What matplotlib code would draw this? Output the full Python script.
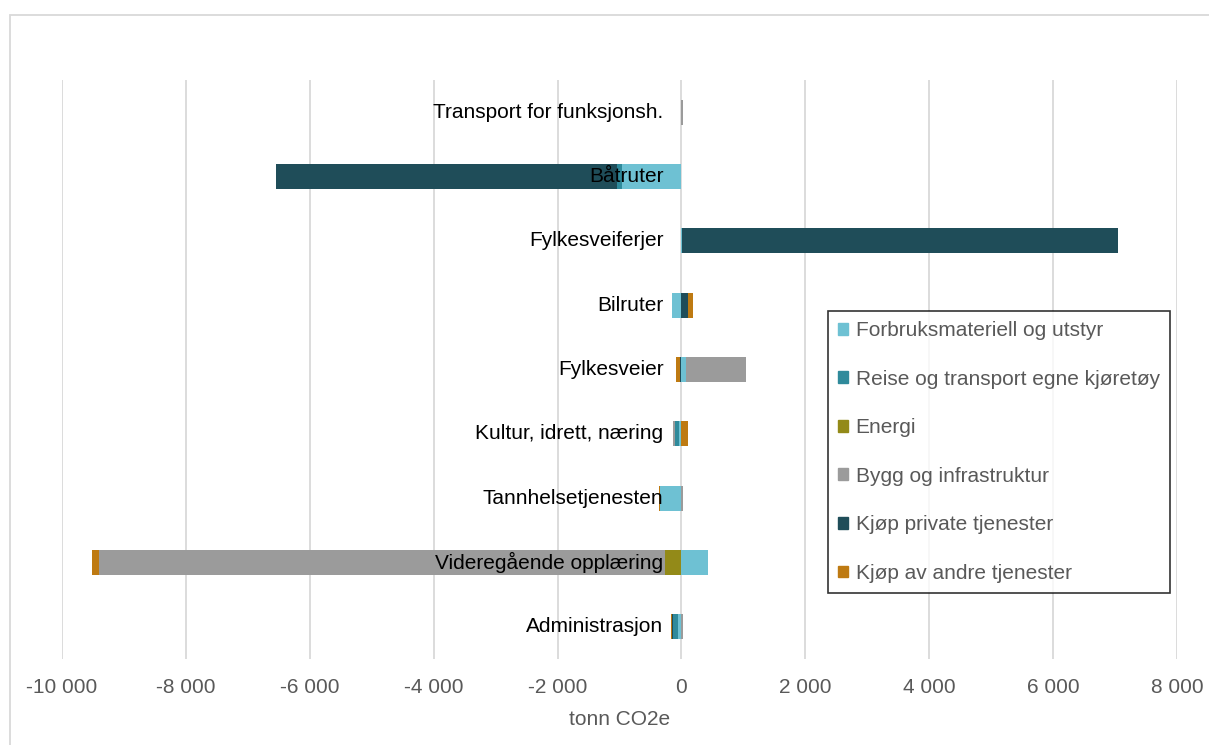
import matplotlib as mpl
mpl.use('Agg')
import matplotlib.pyplot as plt
import matplotlib.patches as mpatches
from matplotlib.ticker import FuncFormatter
import numpy as np

plt.rcParams['font.family'] = ['Liberation Sans', 'DejaVu Sans']

# categories bottom -> top
categories = ["Administrasjon", "Videregående opplæring", "Tannhelsetjenesten",
              "Kultur, idrett, næring", "Fylkesveier", "Bilruter",
              "Fylkesveiferjer", "Båtruter", "Transport for funksjonsh."]

series_names = ["Forbruksmateriell og utstyr", "Reise og transport egne kjøretøy",
                "Energi", "Bygg og infrastruktur", "Kjøp private tjenester",
                "Kjøp av andre tjenester"]
series_colors = ["#6EC1D3", "#2F8A9B", "#938A18", "#9B9B9B", "#1F4D59", "#BE7A12"]

forbruk = [-50, 430, -350, -40, 70, -150, 15, -960, 0]
reise = [-90, 0, 0, -70, 0, 0, 0, -80, 0]
energi = [0, -260, 0, 0, 0, 0, 0, 0, 0]
bygg = [30, -9150, 30, -30, 980, 0, 0, 0, 20]
kjop_private = [-20, 0, 0, 0, -25, 100, 7030, -5500, 0]
kjop_andre = [-15, -110, -15, 110, -65, 85, 0, 0, 0]

series = [forbruk, reise, energi, bygg, kjop_private, kjop_andre]

fs = 15

fig = plt.figure(figsize=(12.09, 7.45), dpi=100)
ax = fig.add_axes([62/1209, 1 - 659/745, (1177-62)/1209, (659-80)/745])

y = np.arange(len(categories))
pos = np.zeros(len(categories))
neg = np.zeros(len(categories))
handles = []
for name, vals, col in zip(series_names, series, series_colors):
    vals = np.array(vals, dtype=float)
    left = np.where(vals >= 0, pos, neg)
    ax.barh(y, vals, left=left, height=0.39, color=col, zorder=2)
    pos = pos + np.where(vals >= 0, vals, 0)
    neg = neg + np.where(vals < 0, vals, 0)
    handles.append(mpatches.Patch(color=col, label=name))

# category labels sit at the zero line
for i, c in enumerate(categories):
    ax.annotate(c, xy=(0, i), xytext=(-13, 0), textcoords='offset points',
                ha='right', va='center', fontsize=fs, color='black', zorder=5)

ax.set_xlim(-10000, 8000)
ax.set_ylim(-0.5, 8.5)
ax.set_xticks(np.arange(-10000, 8001, 2000))
ax.xaxis.set_major_formatter(FuncFormatter(lambda v, p: f"{int(v):,}".replace(",", " ")))
ax.set_yticks([])
ax.grid(axis='x', color='#D9D9D9', linewidth=1.3, zorder=0)
ax.set_axisbelow(True)
for s in ax.spines.values():
    s.set_visible(False)
ax.tick_params(axis='x', length=0, pad=14, labelsize=fs, labelcolor='#595959')
ax.set_xlabel("tonn CO2e", fontsize=fs, color='#595959', labelpad=9)

leg = fig.legend(handles=handles, loc='upper left',
                 bbox_to_anchor=(828/1209, 1 - 311/745), fontsize=fs,
                 frameon=True, fancybox=False, edgecolor='black',
                 handlelength=0.5, handleheight=0.5, handletextpad=0.35,
                 labelspacing=1.42, borderpad=0.48, borderaxespad=0,
                 labelcolor='#595959')
leg.get_frame().set_linewidth(1.2)

# chart area border
fig.patches.append(mpatches.Rectangle((10/1209, -0.05), 1.2, 1.05 - 15/745,
                                      transform=fig.transFigure, fill=False,
                                      edgecolor='#D9D9D9', linewidth=1.3))

plt.savefig("out.png", dpi=100)
